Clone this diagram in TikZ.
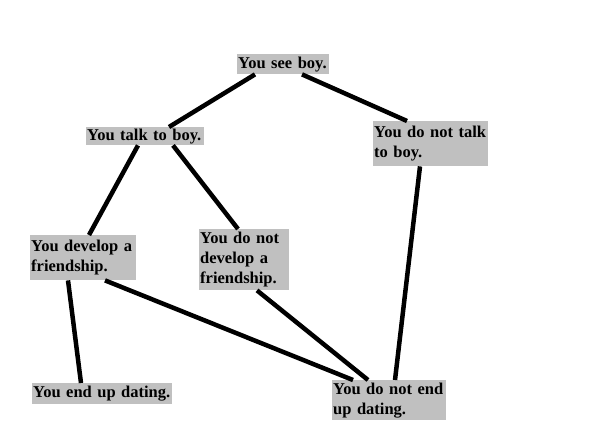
\documentclass[tikz,border=0pt]{standalone}
\usepackage{fontspec}
\setmainfont{Liberation Serif}
\definecolor{boxgray}{RGB}{192,192,192}
\hyphenpenalty=10000
\tikzset{
	box/.style={fill=boxgray, anchor=north west, align=left, inner xsep=1pt, inner ysep=1pt,
		font=\bfseries\fontsize{16.5}{20}\selectfont},
	link/.style={line width=4.5pt}
}
\begin{document}
\begin{tikzpicture}[x=1pt,y=-1pt]
	\useasboundingbox (0,0) rectangle (600,443);
	\node[box, text width=90pt, minimum height=20pt] (see) at (237,54) {You see boy.};
	\node[box, text width=116pt, minimum height=18pt] (talk) at (86,127) {You talk to boy.};
	\node[box, text width=113pt, minimum height=45pt] (nottalk) at (373,121) {You do not talk\\to boy.};
	\node[box, text width=104pt, minimum height=45pt] (develop) at (30,235) {You develop a\\friendship.};
	\node[box, text width=88pt, minimum height=61pt] (notdevelop) at (199,229) {You do not\\develop a\\friendship.};
	\node[box, text width=138pt, minimum height=21pt] (dating) at (32,383) {You end up dating.};
	\node[box, text width=112pt, minimum height=40pt] (notdating) at (332,380) {You do not end\\up dating.};
	\draw[link] ([xshift=18pt]see.south west) -- ([xshift=83pt]talk.north west);
	\draw[link] ([xshift=65pt]see.south west) -- ([xshift=34pt]nottalk.north west);
	\draw[link] ([xshift=52pt]talk.south west) -- ([xshift=59pt]develop.north west);
	\draw[link] ([xshift=87pt]talk.south west) -- ([xshift=39pt]notdevelop.north west);
	\draw[link] ([xshift=47pt]nottalk.south west) -- ([xshift=63pt]notdating.north west);
	\draw[link] ([xshift=38pt]develop.south west) -- ([xshift=49pt]dating.north west);
	\draw[link] ([xshift=75pt]develop.south west) -- ([xshift=21pt]notdating.north west);
	\draw[link] ([xshift=58pt]notdevelop.south west) -- ([xshift=36pt]notdating.north west);
\end{tikzpicture}
\end{document}
